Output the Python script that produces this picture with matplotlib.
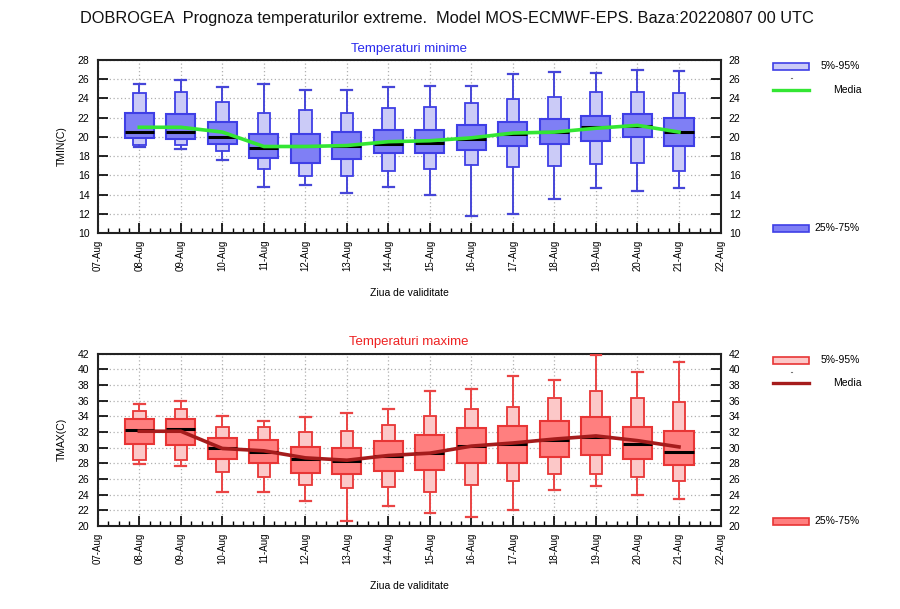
import numpy as np
import matplotlib
matplotlib.use("Agg")
import matplotlib.pyplot as plt
import matplotlib.dates as mdates
from matplotlib.patches import Rectangle
from matplotlib.lines import Line2D

plt.rcParams['font.family'] = ['Liberation Sans', 'DejaVu Sans']

# validity days 08-Aug .. 21-Aug 2022
days = np.arange(np.datetime64('2022-08-08'), np.datetime64('2022-08-22'), np.timedelta64(1, 'D'))
xpos = mdates.date2num(days.astype('datetime64[s]').astype(object))

# TMIN statistics
tmin_min = [18.9, 18.7, 17.6, 14.8, 15.0, 14.2, 14.8, 14.0, 11.8, 12.0, 13.5, 14.7, 14.4, 14.7]
tmin_p05 = [19.2, 19.2, 18.5, 16.7, 15.9, 15.9, 16.5, 16.7, 17.1, 16.9, 17.0, 17.2, 17.3, 16.4]
tmin_p25 = [19.9, 19.8, 19.3, 17.8, 17.3, 17.7, 18.3, 18.3, 18.6, 19.1, 19.3, 19.6, 20.0, 19.0]
tmin_med = [20.5, 20.5, 20.0, 18.8, 19.0, 19.0, 19.3, 19.4, 19.8, 20.3, 20.5, 21.0, 21.1, 20.5]
tmin_p75 = [22.5, 22.4, 21.6, 20.3, 20.3, 20.5, 20.7, 20.7, 21.2, 21.6, 21.9, 22.2, 22.4, 22.0]
tmin_p95 = [24.6, 24.7, 23.6, 22.5, 22.8, 22.5, 23.0, 23.1, 23.5, 23.9, 24.2, 24.7, 24.7, 24.6]
tmin_max = [25.5, 25.9, 25.2, 25.5, 24.9, 24.9, 25.2, 25.3, 25.3, 26.5, 26.7, 26.6, 27.0, 26.9]
tmin_mean = [21.0, 21.0, 20.5, 19.0, 19.0, 19.1, 19.5, 19.6, 19.9, 20.4, 20.5, 20.9, 21.2, 20.5]

# TMAX statistics
tmax_min = [27.9, 27.6, 24.3, 24.3, 23.2, 20.6, 22.5, 21.6, 21.1, 22.0, 24.6, 25.1, 23.9, 23.4]
tmax_p05 = [28.4, 28.4, 26.9, 26.3, 25.2, 24.8, 25.0, 24.3, 25.2, 25.8, 26.7, 26.6, 26.2, 25.7]
tmax_p25 = [30.5, 30.3, 28.5, 28.0, 26.8, 26.6, 27.0, 27.2, 28.1, 28.1, 28.8, 29.1, 28.5, 27.8]
tmax_med = [32.2, 32.4, 30.0, 29.5, 28.5, 28.3, 28.9, 29.3, 30.2, 30.5, 31.0, 31.4, 30.5, 29.5]
tmax_p75 = [33.6, 33.6, 31.3, 31.0, 30.1, 29.9, 30.9, 31.6, 32.5, 32.8, 33.4, 33.9, 32.6, 32.1]
tmax_p95 = [34.7, 35.0, 32.6, 32.6, 32.0, 32.1, 32.9, 34.1, 35.0, 35.2, 36.3, 37.2, 36.3, 35.8]
tmax_max = [35.6, 35.9, 34.1, 33.4, 33.9, 34.4, 34.9, 37.2, 37.5, 39.1, 38.6, 41.8, 39.7, 41.0]
tmax_mean = [32.1, 32.1, 29.9, 29.6, 28.7, 28.4, 29.0, 29.3, 30.2, 30.6, 31.1, 31.5, 30.9, 30.1]

W, H = 900, 609
fig = plt.figure(figsize=(W / 100, H / 100), dpi=100)


def px(x0, y0, x1, y1):
    return [x0 / W, 1 - y1 / H, (x1 - x0) / W, (y1 - y0) / H]


def panel(rect, stats, ylim, yticks, ylabel, title, tcol, cols, leg_y):
    mn, p05, p25, med, p75, p95, mx, mean = stats
    dark_fill, dark_edge, light_fill, wcol, mean_col = cols
    ax = fig.add_axes(rect)
    outer = [dict(whislo=a, q1=b, med=np.nan, q3=c, whishi=d)
             for a, b, c, d in zip(mn, p05, p95, mx)]
    inner = [dict(whislo=b, q1=b, med=m, q3=c, whishi=c)
             for b, m, c in zip(p25, med, p75)]
    ax.bxp(outer, positions=xpos, widths=0.3, patch_artist=True,
           showfliers=False, showcaps=True,
           boxprops=dict(facecolor=light_fill, edgecolor=dark_edge, linewidth=1.3),
           whiskerprops=dict(color=wcol, linewidth=1.4),
           capprops=dict(color=wcol, linewidth=1.6),
           medianprops=dict(linewidth=0), capwidths=0.26, zorder=3)
    ax.bxp(inner, positions=xpos, widths=0.7, patch_artist=True,
           showfliers=False, showcaps=False,
           boxprops=dict(facecolor=dark_fill, edgecolor=dark_edge, linewidth=1.5),
           whiskerprops=dict(linewidth=0),
           medianprops=dict(color='black', linewidth=2.2), zorder=4)
    ax.plot(xpos, mean, color=mean_col, linewidth=2.6, zorder=6)

    ax.set_xlim(mdates.date2num(np.datetime64('2022-08-07').astype(object)),
                mdates.date2num(np.datetime64('2022-08-22').astype(object)))
    ax.xaxis.set_major_locator(mdates.DayLocator())
    ax.xaxis.set_minor_locator(mdates.HourLocator(byhour=[6, 12, 18]))
    ax.xaxis.set_major_formatter(mdates.DateFormatter('%d-%b'))
    ax.set_ylim(*ylim)
    ax.set_yticks(yticks)
    ax.tick_params(axis='x', which='major', direction='in', length=7, width=1.2,
                   labelsize=7, rotation=90, pad=5, top=False)
    ax.tick_params(axis='x', which='minor', direction='in', length=3.5, width=1.0, top=False)
    ax.tick_params(axis='y', which='major', direction='in', length=7, width=1.2,
                   labelsize=7.5, left=True, right=True, labelright=True, pad=6)
    ax.grid(True, which='major', color='#b0b0b0', linestyle=(0, (1, 2)), linewidth=0.9)
    ax.set_axisbelow(True)
    for s in ax.spines.values():
        s.set_linewidth(1.5)
        s.set_color('#222222')
    ax.set_ylabel(ylabel, fontsize=7.5, labelpad=8)
    ax.set_xlabel('Ziua de validitate', fontsize=7.5, labelpad=12)
    ax.set_title(title, color=tcol, fontsize=9.5, pad=6)

    # legend on the right
    y1, y2, y3 = leg_y
    fig.add_artist(Rectangle((773 / W, 1 - (y1 + 3.5) / H), 36 / W, 7 / H,
                             facecolor=light_fill, edgecolor=dark_edge, linewidth=1.2))
    fig.text(821 / W, 1 - y1 / H, '5%-95%', fontsize=7.5, va='center')
    fig.add_artist(Line2D([791 / W, 792 / W], [1 - (y1 + 12) / H] * 2,
                          color='#777777', linewidth=0.8))
    fig.add_artist(Line2D([773 / W, 809 / W], [1 - y2 / H] * 2, color=mean_col, linewidth=2.4))
    fig.text(833 / W, 1 - y2 / H, 'Media', fontsize=7.5, va='center')
    fig.add_artist(Rectangle((773 / W, 1 - (y3 + 3.5) / H), 36 / W, 7 / H,
                             facecolor=dark_fill, edgecolor=dark_edge, linewidth=1.2))
    fig.text(814 / W, 1 - y3 / H, '25%-75%', fontsize=7.5, va='center')
    return ax


panel(px(97.8, 60, 720.5, 233),
      (tmin_min, tmin_p05, tmin_p25, tmin_med, tmin_p75, tmin_p95, tmin_max, tmin_mean),
      (10, 28), range(10, 29, 2), 'TMIN(C)', 'Temperaturi minime', '#2a2aee',
      ('#7f7ff5', '#3f3fe6', '#cbcbf7', '#4646d8', '#33e633'), (66, 90, 228))
panel(px(97.8, 353.7, 720.5, 526),
      (tmax_min, tmax_p05, tmax_p25, tmax_med, tmax_p75, tmax_p95, tmax_max, tmax_mean),
      (20, 42), range(20, 43, 2), 'TMAX(C)', 'Temperaturi maxime', '#ee2222',
      ('#ff7f7f', '#e83535', '#fcc8c8', '#ea4444', '#a51c1c'), (360, 383, 521))

fig.text(447 / W, 1 - 19 / H,
         'DOBROGEA  Prognoza temperaturilor extreme.  Model MOS-ECMWF-EPS. Baza:20220807 00 UTC',
         fontsize=11.8, ha='center', va='center', color='#111111')

fig.savefig('out.png', dpi=100)
